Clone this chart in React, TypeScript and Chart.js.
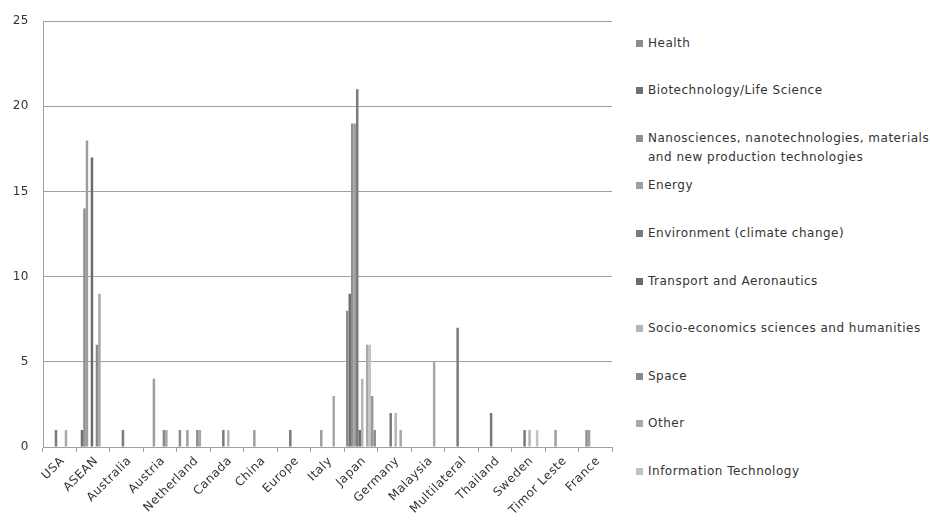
import React, { useEffect, useRef } from 'react';
import { Chart, registerables } from 'chart.js';

Chart.register(...registerables);

const categories = ['USA', 'ASEAN', 'Australia', 'Austria', 'Netherland', 'Canada', 'China', 'Europe', 'Italy', 'Japan', 'Germany', 'Malaysia', 'Multilateral', 'Thailand', 'Sweden', 'Timor Leste', 'France'];

const yTicks = [0, 5, 10, 15, 20, 25];

// series values, one per category (in the order above)
const health = [0, 0, 0, 0, 1, 0, 0, 0, 0, 8, 0, 0, 0, 0, 0, 0, 0];
const biotech = [0, 1, 0, 0, 0, 0, 0, 0, 0, 9, 0, 0, 0, 0, 0, 0, 0];
const nano = [0, 14, 0, 0, 0, 0, 0, 0, 0, 19, 0, 0, 0, 0, 0, 0, 1];
const energy = [0, 18, 0, 4, 1, 0, 1, 0, 1, 19, 0, 0, 0, 0, 0, 1, 1];
const environment = [1, 0, 1, 0, 0, 1, 0, 1, 0, 21, 2, 0, 7, 2, 1, 0, 0];
const transport = [0, 17, 0, 0, 0, 0, 0, 0, 0, 1, 0, 0, 0, 0, 0, 0, 0];
const socio = [0, 0, 0, 0, 0, 1, 0, 0, 0, 4, 2, 0, 0, 0, 1, 0, 0];
const space = [0, 6, 0, 1, 1, 0, 0, 0, 0, 0, 0, 0, 0, 0, 0, 0, 0];
const other = [1, 9, 0, 1, 1, 0, 0, 0, 3, 6, 1, 5, 0, 0, 0, 0, 0];
const infoTech = [0, 0, 0, 0, 0, 0, 0, 0, 0, 6, 0, 0, 0, 0, 1, 0, 0];
const unlabeledA = [0, 0, 0, 0, 0, 0, 0, 0, 0, 3, 0, 0, 0, 0, 0, 0, 0];
const unlabeledB = [0, 0, 0, 0, 0, 0, 0, 0, 0, 1, 0, 0, 0, 0, 0, 0, 0];

const seriesNames = [
  'Health',
  'Biotechnology/Life Science',
  'Nanosciences, nanotechnologies, materials and new production technologies',
  'Energy',
  'Environment (climate change)',
  'Transport and Aeronautics',
  'Socio-economics sciences and humanities',
  'Space',
  'Other',
  'Information Technology',
  '',
  '',
];
const seriesValues = [health, biotech, nano, energy, environment, transport, socio, space, other, infoTech, unlabeledA, unlabeledB];
const seriesColors = ['#8c8c8c', '#707070', '#8f8f8f', '#9e9e9e', '#7b7b7b', '#6b6b6b', '#b5b5b5', '#8a8a8a', '#a8a8a8', '#c2c2c2', '#999999', '#8c8c8c'];

const legendLines: string[][] = [
  ['Health'],
  ['Biotechnology/Life Science'],
  ['Nanosciences, nanotechnologies, materials', 'and new production technologies'],
  ['Energy'],
  ['Environment (climate change)'],
  ['Transport and Aeronautics'],
  ['Socio-economics sciences and humanities'],
  ['Space'],
  ['Other'],
  ['Information Technology'],
];

const FONT = '"DejaVu Sans", Verdana, sans-serif';
const TEXT = '#333333';

const spacingPlugin = {
  id: 'letterSpacing',
  beforeDraw: (chart: any) => {
    try { chart.ctx.letterSpacing = '0.5px'; } catch (e) { /* ignore */ }
  },
};

export default function App() {
  const ref = useRef<HTMLCanvasElement>(null);

  useEffect(() => {
    if (!ref.current) return;
    const chart = new Chart(ref.current, {
      type: 'bar',
      data: {
        labels: categories,
        datasets: seriesValues.map((vals, i) => ({
          label: seriesNames[i],
          data: vals,
          backgroundColor: seriesColors[i],
          borderWidth: 0,
          categoryPercentage: 0.895,
          barPercentage: 1,
        })),
      },
      plugins: [spacingPlugin],
      options: {
        animation: false,
        responsive: false,
        layout: { padding: { top: 19, right: 8, left: 0, bottom: 0 } },
        plugins: {
          legend: { display: false },
          tooltip: { enabled: false },
        },
        scales: {
          x: {
            offset: true,
            grid: { offset: true, drawOnChartArea: false, drawTicks: true, tickLength: 5, color: '#a0a0a0' },
            border: { color: '#a0a0a0' },
            ticks: {
              minRotation: 45,
              maxRotation: 45,
              autoSkip: false,
              padding: 2,
              labelOffset: 3,
              color: TEXT,
              font: { family: FONT, size: 12 },
            },
            afterCalculateLabelRotation: (s: any) => { s.labelRotation = 45; },
            afterFit: (s: any) => { s.height = 73; },
          },
          y: {
            min: 0,
            max: 25,
            afterBuildTicks: (s: any) => { s.ticks = yTicks.map((v) => ({ value: v })); },
            ticks: { padding: 14, color: TEXT, font: { family: FONT, size: 12 } },
            grid: { color: '#a0a0a0', drawTicks: false },
            border: { color: '#a0a0a0' },
            afterFit: (s: any) => { s.width = 43; },
          },
        },
      },
    });
    return () => chart.destroy();
  }, []);

  return (
    <div style={{ position: 'absolute', left: 0, top: 0, width: 930, height: 520, background: '#fff', overflow: 'hidden' }}>
      <canvas ref={ref} width={620} height={520} style={{ position: 'absolute', left: 0, top: 0, width: 620, height: 520 }} />
      {legendLines.map((lines, i) => {
        const cy = 43 + i * 47.6;
        return (
          <div key={i} style={{ position: 'absolute', left: 636, top: cy - 9.5, width: 294 }}>
            <div style={{ position: 'absolute', left: 0, top: 6, width: 7, height: 7, background: seriesColors[i] }} />
            <div style={{ position: 'absolute', left: 12, top: 0, fontFamily: FONT, fontSize: 12, letterSpacing: '0.5px', lineHeight: '19px', color: TEXT, whiteSpace: 'nowrap' }}>
              {lines.map((t, j) => (<div key={j}>{t}</div>))}
            </div>
          </div>
        );
      })}
    </div>
  );
}
